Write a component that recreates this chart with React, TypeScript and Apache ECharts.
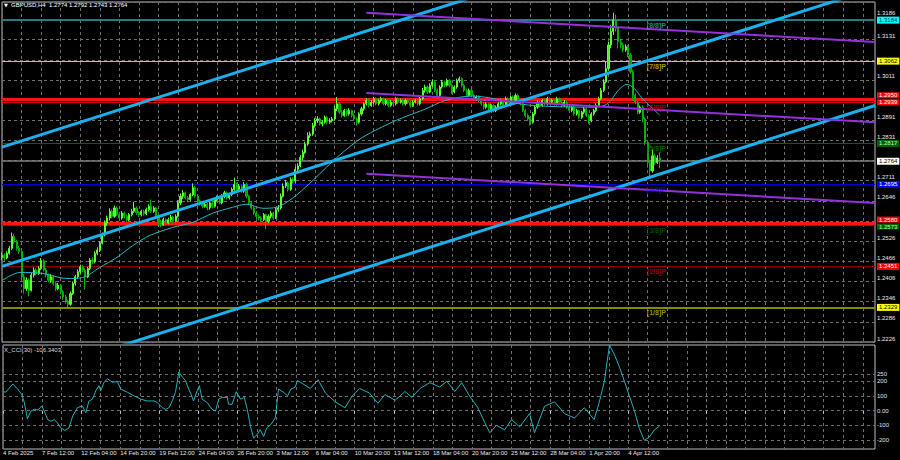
import React, { useEffect, useRef } from 'react';
import * as echarts from 'echarts';

// ---- time axis ----
const SLOTS = 358; // H4 bar slots across the chart (incl. right shift)
const categories = Array.from({ length: SLOTS }, (_, i) => String(i));
const xTickLabels = ['4 Feb 2025', '7 Feb 12:00', '12 Feb 04:00', '14 Feb 20:00', '19 Feb 12:00', '24 Feb 04:00', '26 Feb 20:00', '3 Mar 12:00', '6 Mar 04:00', '10 Mar 20:00', '13 Mar 12:00', '18 Mar 04:00', '20 Mar 20:00', '25 Mar 12:00', '28 Mar 04:00', '1 Apr 20:00', '4 Apr 12:00'];

// ---- price axis (labels hidden behind the level boxes are left empty) ----
const priceMin = 1.2226;
const priceMax = 1.3238;
const priceStep = 0.006;
const yTickLabels = ['1.2226', '1.2286', '1.2346', '1.2406', '1.2466', '1.2526', '', '1.2646', '1.2711', '', '1.2831', '1.2891', '', '1.3011', '', '1.3131', '1.3186'];

// ---- GBPUSD H4 candles: [open, close, low, high] in pips above 1.2000 ----
const candlesPips = [
  [478,484,470,492],[484,476,468,490],[476,490,472,496],[490,505,486,512],[505,540,500,552],[540,525,518,548],[525,505,498,530],[505,495,488,512],
  [495,420,405,500],[420,385,370,428],[385,410,378,418],[410,380,362,415],[380,425,376,432],[425,440,418,448],[440,430,424,446],[430,445,426,452],
  [445,468,440,476],[468,440,436,472],[440,425,418,446],[425,410,404,430],[410,420,402,428],[420,400,394,424],[400,385,378,406],[385,395,380,402],
  [395,375,368,398],[375,360,352,380],[360,345,340,366],[345,338,330,352],[338,370,334,376],[370,400,366,406],[400,420,394,426],[420,435,414,442],
  [435,450,430,456],[450,440,434,455],[440,420,382,446],[420,445,416,450],[445,470,440,476],[470,465,458,478],[465,490,460,496],[490,500,484,508],
  [500,520,494,526],[520,545,516,552],[545,580,540,588],[580,595,572,602],[595,615,588,624],[615,600,594,620],[600,625,596,632],[625,605,600,630],
  [605,595,588,612],[595,610,590,616],[610,600,594,614],[600,590,584,606],[590,605,586,610],[605,615,600,622],[615,625,610,643],[625,610,604,630],
  [610,605,598,616],[605,615,600,620],[615,608,602,620],[608,620,604,626],[620,630,614,636],[630,615,610,650],[615,625,610,630],[625,600,596,628],
  [600,585,570,605],[585,575,568,590],[575,590,572,596],[590,580,574,594],[580,590,576,596],[590,598,584,604],[598,585,580,602],[585,600,582,606],
  [600,640,596,648],[640,660,634,668],[660,670,652,678],[670,655,650,674],[655,650,642,660],[650,665,646,670],[665,685,660,698],[685,660,655,690],
  [660,645,640,664],[645,640,632,650],[640,630,624,646],[630,635,626,642],[635,625,618,640],[625,640,620,646],[640,630,624,645],[630,650,626,656],
  [650,655,644,662],[655,640,636,660],[640,660,636,666],[660,670,654,676],[670,655,650,674],[655,665,650,670],[665,680,660,686],[680,695,676,715],
  [695,680,674,700],[680,690,676,696],[690,675,670,694],[675,695,670,702],[695,660,654,700],[660,640,634,664],[640,625,620,646],[625,610,604,630],
  [610,600,594,616],[600,595,588,606],[595,590,582,600],[590,605,586,610],[605,585,562,608],[585,600,580,606],[600,610,594,616],[610,595,590,614],
  [595,620,592,626],[620,625,614,634],[625,660,620,668],[660,690,656,698],[690,700,684,708],[700,680,674,704],[680,710,676,716],[710,705,698,716],
  [705,740,700,748],[740,750,734,758],[750,775,746,782],[775,790,768,798],[790,815,786,822],[815,840,810,850],[840,845,834,852],[845,870,840,878],
  [870,885,864,892],[885,890,878,898],[890,875,870,894],[875,880,868,886],[880,895,876,900],[895,880,874,898],[880,885,876,892],[885,890,880,896],
  [890,920,886,928],[920,935,914,955],[935,910,904,940],[910,900,894,916],[900,915,896,920],[915,905,898,920],[905,915,900,922],[915,900,894,918],
  [900,890,884,906],[890,880,870,895],[880,905,876,910],[905,920,900,926],[920,935,914,940],[935,945,930,952],[945,930,924,950],[930,940,926,946],
  [940,950,934,956],[950,935,930,954],[935,945,930,950],[945,950,940,956],[950,935,930,954],[935,945,930,950],[945,930,924,948],[930,940,926,946],
  [940,935,928,944],[935,950,930,956],[950,940,934,954],[940,945,936,950],[945,935,930,950],[935,945,930,950],[945,940,934,950],[940,930,924,944],
  [930,940,926,946],[940,945,936,950],[945,935,930,950],[935,950,930,956],[950,975,946,982],[975,985,968,992],[985,970,964,990],[970,990,966,996],
  [990,1000,984,1008],[1000,975,970,1004],[975,960,954,980],[960,985,956,990],[985,1000,980,1006],[1000,990,984,1004],[990,1005,986,1010],[1005,990,984,1008],
  [990,970,964,994],[970,985,966,990],[985,1005,980,1010],[1005,1010,998,1016],[1010,990,984,1014],[990,975,970,994],[975,960,954,980],[960,975,956,980],
  [975,960,954,980],[960,950,944,964],[950,955,944,960],[955,945,940,960],[945,935,930,950],[935,925,918,940],[925,935,920,940],[935,920,914,938],
  [920,930,916,936],[930,915,910,934],[915,925,910,930],[925,935,920,940],[935,945,930,950],[945,930,926,950],[930,950,926,956],[950,940,934,954],
  [940,955,936,960],[955,945,940,960],[945,960,940,966],[960,945,940,964],[945,935,930,950],[935,915,910,940],[915,900,894,920],[900,890,884,906],
  [890,880,870,896],[880,905,876,910],[905,925,900,930],[925,940,920,946],[940,930,924,944],[930,945,926,950],[945,935,930,950],[935,950,930,956],
  [950,940,934,954],[940,945,936,950],[945,935,930,950],[935,950,930,956],[950,940,934,954],[940,930,924,944],[930,940,926,946],[940,925,920,944],
  [925,915,910,930],[915,925,910,930],[925,905,900,928],[905,915,900,920],[915,895,890,918],[895,910,890,914],[910,920,904,926],[920,900,896,924],
  [900,885,875,904],[885,905,880,910],[905,915,900,920],[915,930,910,936],[930,950,926,956],[950,975,946,982],[975,1000,970,1008],[1000,1040,996,1060],
  [1040,1110,1034,1120],[1110,1150,1100,1170],[1150,1185,1140,1206],[1185,1160,1150,1200],[1160,1120,1100,1165],[1120,1110,1100,1128],[1110,1095,1088,1116],[1095,1105,1090,1112],
  [1105,1080,1074,1110],[1080,1030,1024,1086],[1030,960,945,1036],[960,940,934,966],[940,910,904,946],[910,925,905,930],[925,890,880,930],[890,820,812,895],
  [820,760,745,826],[760,735,714,766],[735,780,730,800],[780,760,752,786],[760,774,756,782],[774,764,743,792],
];

// ---- moving average: [bar, price] ----
const maPoints = [
  [0,1.2409],[7.3,1.2433],[16.7,1.2430],[26.5,1.2415],[33,1.2418],[40,1.2448],[47,1.2478],[53.5,1.2513],[60.4,1.2543],[69.8,1.2567],
  [78,1.2582],[86,1.2609],[94.3,1.2627],[100,1.2636],[106.6,1.2624],[112.3,1.2627],[118.8,1.2654],[125.8,1.2698],[132.7,1.2746],[138,1.2782],
  [147.4,1.2835],[161.3,1.2886],[172,1.2916],[181.7,1.2946],[192.3,1.2958],[215.6,1.2931],[243,1.2925],[248,1.2937],[252,1.2975],[255.6,1.2993],
  [258.5,1.2981],[261.7,1.2952],[264.6,1.2931],[269,1.2901],
];

// ---- trend lines: [[bar, price], [bar, price]] ----
const channelLines = [
  [[0, 1.2806], [357, 1.3634]],
  [[0, 1.2451], [357, 1.3279]],
  [[0, 1.2102], [357, 1.2930]],
];
const regressionLines = [
  [[149, 1.3206], [357, 1.3119]],
  [[149, 1.2967], [357, 1.2880]],
  [[149, 1.2727], [357, 1.2640]],
];

// ---- Murrey math levels ----
const murreyValues = [1.3184, 1.3062, 1.2939, 1.2817, 1.2695, 1.2573, 1.2451, 1.2329];
const murreyNames = ['[8/8]P', '[7/8]P', '[6/8]P', '[5/8]P', '[4/8]P', '[3/8]P', '[2/8]P', '[1/8]P'];
const murreyLabelBar = 263.5;
const keyLevels = [1.2950, 1.2580];
const currentPrice = 1.2764;
const titleText = 'GBPUSD,H4  1.2774 1.2792 1.2743 1.2764';

// ---- CCI(30) ----
const cciMax = 445.3106;
const cciMin = -259.9827;
const cciLevels = [250, 200, 100, 0, -100, -200];
const cciLevelLabels = ['250', '200', '100', '0.00', '-100', '-200'];
const cciLast = -106.3403;
const cciPoints = [
  [0,128],[1.2,126],[4,181],[6,147],[7.6,112],[8.7,57],[10,-55],[11.4,-3],[12.8,9],[14.4,4],[15.8,32],[16.9,-3],[18.3,-60],[19.6,-72],
  [21,-60],[22.3,-83],[23.7,-117],[25.3,-134],[27,-117],[28.5,-37],[30.5,21],[32.5,32],[33.9,-14],[35.2,66],[36.6,78],[38,135],[39.3,170],
  [40,135],[41.4,193],[42.8,216],[44.8,193],[46.8,197],[48.2,147],[51,124],[53.6,101],[56.4,78],[59,66],[61.8,66],[63.2,55],[65.2,21],
  [66.6,9],[68,21],[69.3,66],[70.6,124],[72,262],[73.4,228],[74.7,204],[76,147],[77,112],[78,66],[79.5,135],[80.4,170],[81.5,78],
  [83.6,55],[85.6,9],[87,-3],[88.3,78],[89.7,90],[91.8,90],[92.4,43],[93.8,43],[95.5,128],[97.2,78],[98.8,90],[100,9],[101.3,-106],
  [102.6,-186],[104,-163],[105.3,-129],[106.7,-175],[108,-117],[109.7,-94],[111.5,-48],[112.8,147],[114.9,124],[116.5,101],[117.9,147],
  [119.6,159],[120.6,204],[121.7,193],[125.8,150],[129,210],[132,120],[136,60],[140,20],[143,100],[146,150],[150,120],[153.5,50],
  [156.4,110],[160.5,70],[164.6,130],[167.4,90],[170.7,150],[174.8,190],[178.8,160],[181.7,200],[185,130],[187.8,190],[191,100],
  [194.4,20],[197.2,-80],[199.3,-150],[202,-100],[205.4,-130],[208.2,-60],[211.5,-110],[215.6,-20],[217.6,-150],[221.7,30],[225.8,60],
  [229.9,-20],[234,-50],[238,20],[242,-60],[244,50],[246.2,200],[248.3,445],[250.3,380],[252.3,300],[254.4,200],[256.4,100],[258.5,0],
  [260.5,-120],[262.5,-200],[264.6,-180],[266.7,-130],[268.7,-106],
];

const FONT = 'Liberation Sans';
const gridLine = { color: '#6e6e6e', type: [3, 3] as any, width: 1 };

const murreyStyles = [
  { line: '#1f7f80', width: 2, text: '#2aa7b8', bg: '#00ffff', fg: '#003060' },
  { line: '#d2d200', width: 1, text: '#c8c800', bg: '#ffff00', fg: '#000000' },
  { line: '#e00000', width: 1, text: '#c80000', bg: '#ff0000', fg: '#ffffff' },
  { line: '#006400', width: 1, text: '#0a7a0a', bg: '#006400', fg: '#b8ffb8' },
  { line: '#0000d0', width: 1, text: '#1010e0', bg: '#0000ff', fg: '#ffffff' },
  { line: '#006000', width: 1, text: '#005a00', bg: '#006400', fg: '#b8ffb8' },
  { line: '#900000', width: 1, text: '#c00000', bg: '#ff0000', fg: '#ffffff' },
  { line: '#8a8a00', width: 2, text: '#b8b800', bg: '#ffff00', fg: '#000000' },
];

function boxLabel(text: string, bg: string, fg: string) {
  return {
    show: true, position: 'end', distance: 2, formatter: text,
    backgroundColor: bg, color: fg, fontSize: 6, lineHeight: 6, fontFamily: FONT, padding: [1, 2, 0, 2],
  };
}

function pairLabel(top: string, bottom: string, topBg: string, bottomBg: string, bottomFg: string) {
  return {
    show: true, position: 'end', distance: 2, formatter: `{a|${top}}\n{b|${bottom}}`,
    fontSize: 6, fontFamily: FONT,
    rich: {
      a: { backgroundColor: topBg, color: '#ffffff', fontSize: 6, lineHeight: 7, padding: [0, 2, 0, 2], fontFamily: FONT },
      b: { backgroundColor: bottomBg, color: bottomFg, fontSize: 6, lineHeight: 7, padding: [0, 2, 0, 2], fontFamily: FONT },
    },
  };
}

export default function App() {
  const ref = useRef<HTMLDivElement>(null);
  useEffect(() => {
    if (!ref.current) return;
    const chart = echarts.init(ref.current, undefined, { renderer: 'svg' });

    const candleData = candlesPips.map(([o, c, l, h]) => [1.2 + o / 1e4, 1.2 + c / 1e4, 1.2 + l / 1e4, 1.2 + h / 1e4]);

    // levels whose price box is stacked with a key level box
    const pairedWith = [2, 5];
    const levelMarks: any[] = [];
    murreyValues.forEach((v, k) => {
      const s = murreyStyles[k];
      levelMarks.push({
        yAxis: v,
        lineStyle: { color: s.line, width: s.width, type: 'solid' },
        label: pairedWith.includes(k) ? { show: false } : boxLabel(v.toFixed(4), s.bg, s.fg),
      });
    });
    keyLevels.forEach((v, j) => {
      const m = pairedWith[j];
      levelMarks.push({
        yAxis: v,
        lineStyle: { color: '#ff1414', width: 3, type: 'solid' },
        label: pairLabel(v.toFixed(4), murreyValues[m].toFixed(4), '#ff0000', murreyStyles[m].bg, murreyStyles[m].fg),
      });
    });
    levelMarks.push({
      yAxis: currentPrice,
      lineStyle: { color: '#7c7c7c', width: 1.5, type: 'solid' },
      label: boxLabel(currentPrice.toFixed(4), '#ffffff', '#000000'),
    });

    const cciMarks: any[] = cciLevels.map((v, k) => ({
      yAxis: v,
      lineStyle: { ...gridLine },
      label: { show: true, position: 'end', distance: 2, formatter: cciLevelLabels[k], color: '#e0e0e0', fontSize: 6, fontFamily: FONT },
    }));
    cciMarks.push({
      yAxis: cciMax, lineStyle: { opacity: 0 },
      label: { show: true, position: 'end', distance: 1, formatter: cciMax.toFixed(4), color: '#e0e0e0', fontSize: 5, fontFamily: FONT, verticalAlign: 'top', padding: [1, 0, 0, 0] },
    });
    cciMarks.push({
      yAxis: cciMin, lineStyle: { opacity: 0 },
      label: { show: true, position: 'end', distance: 1, formatter: cciMin.toFixed(4), color: '#e0e0e0', fontSize: 5, fontFamily: FONT, verticalAlign: 'bottom', padding: [0, 0, 0, 0] },
    });

    const trendSeries = (lines: number[][][], color: string, width: number, z: number) =>
      lines.map((pts) => ({
        type: 'line', xAxisIndex: 1, yAxisIndex: 0, data: pts, showSymbol: false, symbol: 'none', silent: true, z,
        lineStyle: { color, width }, clip: true,
      }));

    const option: any = {
      animation: false,
      backgroundColor: '#000000',
      textStyle: { fontFamily: FONT },
      grid: [
        { left: 2, top: 2, width: 873, height: 340, show: true, borderColor: '#bdbdbd', borderWidth: 1 },
        { left: 2, top: 345, width: 873, height: 104, show: true, borderColor: '#bdbdbd', borderWidth: 1 },
      ],
      xAxis: [
        {
          type: 'category', gridIndex: 0, data: categories, boundaryGap: false,
          axisLine: { show: false }, axisTick: { show: false }, axisLabel: { show: false },
          splitLine: { show: true, interval: 7, lineStyle: gridLine },
        },
        { type: 'value', gridIndex: 0, min: 0, max: SLOTS - 1, show: false },
        {
          type: 'category', gridIndex: 1, data: categories, boundaryGap: false,
          axisLine: { show: false },
          axisTick: { show: true, interval: 15, length: 3, lineStyle: { color: '#c8c8c8' } },
          axisLabel: {
            show: true, interval: 15, align: 'left', margin: 1, fontSize: 6, color: '#e8e8e8', fontFamily: FONT,
            formatter: (val: string) => {
              const i = Number(val);
              return i % 16 === 0 && xTickLabels[i / 16] ? xTickLabels[i / 16] : '';
            },
          },
          splitLine: { show: true, interval: 7, lineStyle: gridLine },
        },
        { type: 'value', gridIndex: 1, min: 0, max: SLOTS - 1, show: false },
      ],
      yAxis: [
        {
          type: 'value', gridIndex: 0, position: 'right', min: priceMin, max: priceMax, interval: priceStep,
          axisLine: { show: false }, axisTick: { show: false },
          axisLabel: {
            show: true, margin: 2, fontSize: 6, color: '#e8e8e8', fontFamily: FONT, padding: [0, 0, 7, 0],
            formatter: (v: number) => {
              const k = Math.round((v - priceMin) / priceStep);
              if (Math.abs(v - (priceMin + k * priceStep)) > 1e-6 || !yTickLabels[k]) return '';
              return k === yTickLabels.length - 1 ? `{hi|${yTickLabels[k]}}` : yTickLabels[k];
            },
            rich: { hi: { fontSize: 6, color: '#e8e8e8', fontFamily: FONT, padding: [0, 0, 6, 0] } },
          },
          splitLine: { show: true, lineStyle: gridLine },
        },
        {
          type: 'value', gridIndex: 1, position: 'right', min: cciMin, max: cciMax,
          axisLine: { show: false }, axisTick: { show: false }, axisLabel: { show: false }, splitLine: { show: false },
        },
      ],
      graphic: [
        { type: 'text', left: 4, top: 2, style: { text: '▼', fill: '#ffffff', fontSize: 5, fontFamily: 'DejaVu Sans' } },
        { type: 'text', left: 11, top: 2, style: { text: titleText, fill: '#ffffff', fontSize: 6, fontFamily: FONT } },
        { type: 'text', left: 4, top: 347, style: { text: 'X_CCI(30) ' + cciLast.toFixed(4), fill: '#d8d8d8', fontSize: 6, fontFamily: FONT } },
      ],
      series: [
        {
          type: 'candlestick', xAxisIndex: 0, yAxisIndex: 0, data: candleData, barWidth: 1.6, z: 3,
          itemStyle: { color: '#4cf02c', color0: '#00a000', borderColor: '#5cff34', borderColor0: '#00b400', borderWidth: 1 },
          markLine: { silent: true, symbol: ['none', 'none'], precision: 4, animation: false, data: levelMarks, z: 2 },
        },
        {
          type: 'line', xAxisIndex: 1, yAxisIndex: 0, data: maPoints, smooth: 0.3, showSymbol: false, symbol: 'none', silent: true, z: 4,
          lineStyle: { color: '#22b8c4', width: 1 },
        },
        ...trendSeries(channelLines, '#18b2f0', 3, 5),
        ...trendSeries(regressionLines, '#9430dc', 2, 5),
        {
          type: 'scatter', xAxisIndex: 1, yAxisIndex: 0, symbolSize: 1, silent: true, z: 6,
          itemStyle: { color: 'rgba(0,0,0,0)' },
          data: murreyValues.map((v, k) => ({
            value: [murreyLabelBar, v],
            label: {
              show: true, position: 'right', distance: 0, offset: [0, 5], formatter: murreyNames[k],
              color: murreyStyles[k].text, fontSize: 7, fontWeight: 'bold', fontFamily: FONT,
            },
          })),
        },
        {
          type: 'line', xAxisIndex: 3, yAxisIndex: 1, data: cciPoints, showSymbol: false, symbol: 'none', silent: true, z: 4,
          lineStyle: { color: '#22b0b8', width: 1 },
          markLine: { silent: true, symbol: ['none', 'none'], precision: 4, animation: false, data: cciMarks, z: 2 },
        },
      ],
    };
    chart.setOption(option);
    return () => chart.dispose();
  }, []);

  return <div ref={ref} style={{ position: 'absolute', left: 0, top: 0, width: 900, height: 460, background: '#000' }} />;
}
